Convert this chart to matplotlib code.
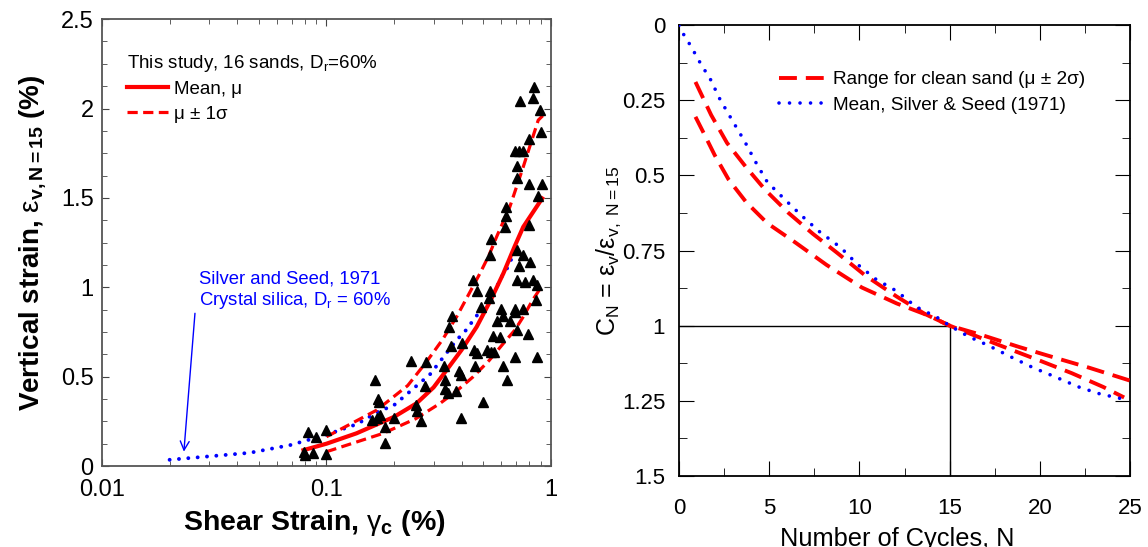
import numpy as np
import matplotlib.pyplot as plt
from matplotlib.ticker import MultipleLocator, FixedLocator, NullFormatter, LogLocator, FuncFormatter

plt.rcParams['font.family'] = ['Liberation Sans', 'DejaVu Sans']
plt.rcParams['mathtext.fontset'] = 'custom'
plt.rcParams['mathtext.rm'] = 'Liberation Sans'
plt.rcParams['mathtext.it'] = 'Liberation Sans'
plt.rcParams['mathtext.bf'] = 'Liberation Sans:bold'

# ---- left panel data: vertical strain vs shear strain
tri_x = [0.843, 0.728, 0.829, 0.893, 0.900, 0.795, 0.689, 0.718, 0.748, 0.708,
         0.708, 0.795, 0.912, 0.878, 0.801, 0.630, 0.630, 0.622, 0.540, 0.535,
         0.703, 0.753, 0.806, 0.718, 0.703, 0.766, 0.831, 0.869, 0.448, 0.470,
         0.535, 0.528, 0.488, 0.597, 0.613, 0.689, 0.691, 0.753, 0.857, 0.577,
         0.657, 0.554, 0.593, 0.703, 0.787, 0.362, 0.352, 0.360, 0.401, 0.455,
         0.467, 0.517, 0.539, 0.557, 0.460, 0.689, 0.609, 0.869, 0.639, 0.239,
         0.279, 0.334, 0.391, 0.396, 0.338, 0.274, 0.337, 0.349, 0.377, 0.496,
         0.399, 0.165, 0.170, 0.172, 0.250, 0.252, 0.263, 0.159, 0.168, 0.174,
         0.182, 0.182, 0.2005, 0.083, 0.090, 0.100, 0.079, 0.080, 0.087, 0.100]
tri_y = [2.12, 2.04, 2.06, 1.99, 1.87, 1.83, 1.76, 1.76, 1.76, 1.68,
         1.61, 1.58, 1.58, 1.51, 1.35, 1.45, 1.40, 1.34, 1.27, 1.18,
         1.21, 1.18, 1.14, 1.12, 1.04, 1.03, 1.04, 1.01, 1.04, 0.98,
         0.98, 0.94, 0.89, 0.88, 0.84, 0.88, 0.86, 0.88, 0.93, 0.81,
         0.81, 0.73, 0.72, 0.76, 0.74, 0.84, 0.78, 0.67, 0.69, 0.65,
         0.63, 0.65, 0.64, 0.64, 0.56, 0.61, 0.56, 0.61, 0.48, 0.59,
         0.58, 0.56, 0.53, 0.51, 0.48, 0.45, 0.43, 0.41, 0.42, 0.36,
         0.27, 0.48, 0.375, 0.36, 0.34, 0.31, 0.25, 0.26, 0.27, 0.285,
         0.22, 0.13, 0.27, 0.19, 0.16, 0.20, 0.08, 0.06, 0.074, 0.067]

mean_x = [0.079, 0.100, 0.136, 0.200, 0.252, 0.300, 0.343, 0.400, 0.467, 0.540, 0.614, 0.690, 0.753, 0.832, 0.914]
mean_y = [0.089, 0.125, 0.183, 0.275, 0.351, 0.440, 0.537, 0.650, 0.779, 0.930, 1.078, 1.230, 1.338, 1.420, 1.497]

up_x = [0.100, 0.1675, 0.230, 0.279, 0.330, 0.380, 0.430, 0.483, 0.530, 0.573, 0.656, 0.753, 0.878, 0.92]
up_y = [0.164, 0.313, 0.450, 0.583, 0.710, 0.835, 0.960, 1.078, 1.180, 1.283, 1.450, 1.674, 1.935, 1.96]

lo_x = [0.100, 0.179, 0.250, 0.321, 0.380, 0.451, 0.530, 0.614, 0.690, 0.753, 0.830, 0.893, 0.92]
lo_y = [0.080, 0.183, 0.265, 0.351, 0.420, 0.500, 0.590, 0.686, 0.760, 0.835, 0.930, 0.990, 1.005]

ss_x = [0.020, 0.0455, 0.0688, 0.100, 0.137, 0.173, 0.198, 0.270, 0.286, 0.380, 0.414, 0.500, 0.555, 0.614, 0.643, 0.703]
ss_y = [0.035, 0.074, 0.117, 0.175, 0.235, 0.310, 0.336, 0.481, 0.505, 0.705, 0.753, 0.891, 0.967, 1.078, 1.112, 1.227]

# ---- right panel data: C_N vs number of cycles
cn_n = [0, 0.29, 0.66, 0.97, 1.30, 1.69, 2.27, 2.95, 3.63, 4.25, 4.89, 5.86, 6.83, 7.80,
        8.96, 9.89, 10.90, 12.06, 13.13, 14.29, 15.0, 16.04, 17.11, 18.46, 19.63, 20.79,
        22.15, 23.32, 24.67]
cn_ss = [0, 0.035, 0.07, 0.104, 0.139, 0.174, 0.247, 0.317, 0.386, 0.456, 0.522, 0.58,
         0.636, 0.688, 0.74, 0.796, 0.845, 0.885, 0.937, 0.972, 1.0, 1.036, 1.065, 1.106,
         1.14, 1.169, 1.204, 1.227, 1.245]

r1_n = [0.91, 1.78, 2.66, 3.72, 4.79, 6.05, 7.41, 8.77, 10.32, 12.06, 13.62, 15.0,
        16.52, 18.27, 20.02, 21.76, 23.51, 24.67]
r1_c = [0.189, 0.299, 0.392, 0.473, 0.549, 0.624, 0.694, 0.758, 0.833, 0.903, 0.961, 1.0,
        1.036, 1.077, 1.117, 1.158, 1.204, 1.239]

r2_n = [0.91, 1.40, 1.98, 2.75, 3.72, 4.89, 6.44, 8.18, 10.13, 12.06, 13.81, 15.0,
        16.72, 18.85, 20.79, 22.73, 25.0]
r2_c = [0.305, 0.363, 0.433, 0.514, 0.589, 0.659, 0.723, 0.798, 0.873, 0.926, 0.966, 1.0,
        1.030, 1.071, 1.106, 1.140, 1.183]

ref_n = [0, 15, 15]
ref_c = [1, 1, 1.5]

RED = '#FF0000'
BLUE = '#0000FF'
plain = FuncFormatter(lambda v, p: '{:g}'.format(round(v, 3)))

fig = plt.figure(figsize=(11.48, 5.47), dpi=100)

# ================= left panel
ax = fig.add_axes([0.0889, 0.148, 0.391, 0.817])
ax.set_xscale('log')
ax.set_xlim(0.01, 1)
ax.set_ylim(0, 2.5)

ax.plot(ss_x, ss_y, color=BLUE, lw=2.8, dashes=(0.01, 2.4), dash_capstyle='round', zorder=2)
ax.plot(mean_x, mean_y, color=RED, lw=3.0, label='Mean, μ', zorder=3)
ax.plot(up_x, up_y, color=RED, lw=2.3, dashes=(3.2, 1.7), label='μ ± 1σ', zorder=3)
ax.plot(lo_x, lo_y, color=RED, lw=2.3, dashes=(3.2, 1.7), zorder=3)
ax.plot(tri_x, tri_y, linestyle='none', marker='^', ms=6.5, color='black', zorder=4)

ax.text(0.027, 1.044, 'Silver and Seed, 1971', color=BLUE, fontsize=13.3, va='center')
ax.text(0.027, 0.928, 'Crystal silica, D$_\\mathrm{r}$ = 60%', color=BLUE, fontsize=13.3, va='center')
ax.annotate('', xy=(0.0231, 0.065), xytext=(0.026, 0.87),
            arrowprops=dict(arrowstyle='->', color=BLUE, lw=1.0, mutation_scale=16))

leg = ax.legend(loc='upper left', bbox_to_anchor=(0.055, 0.925), frameon=False,
                fontsize=13.5, handlelength=2.2, handletextpad=0.3, labelspacing=0.42,
                title='This study, 16 sands, D$_\\mathrm{r}$=60%', title_fontsize=13.5,
                alignment='left', borderaxespad=0, borderpad=0)
leg._legend_box.sep = 5

ax.xaxis.set_major_locator(FixedLocator([0.01, 0.1, 1]))
ax.xaxis.set_major_formatter(plain)
ax.xaxis.set_minor_locator(LogLocator(base=10, subs=np.arange(2, 10)))
ax.xaxis.set_minor_formatter(NullFormatter())
ax.yaxis.set_major_locator(MultipleLocator(0.5))
ax.yaxis.set_minor_locator(MultipleLocator(0.125))
ax.yaxis.set_major_formatter(plain)
ax.tick_params(which='both', direction='in', top=True, right=True, color='#444444')
ax.tick_params(which='major', length=5, labelsize=17, pad=6)
ax.tick_params(axis='x', which='major', pad=9)
ax.tick_params(which='minor', length=3.5)
for s in ax.spines.values():
    s.set_color('#555555')
    s.set_linewidth(1.3)

ax.set_xlabel('Shear Strain, $\\gamma_{\\mathbf{c}}$ (%)', fontsize=20.5, fontweight='bold')
ax.set_ylabel('Vertical strain, $\\varepsilon_{\\mathbf{v,N=15}}$ (%)', fontsize=20, fontweight='bold')
ax.xaxis.set_label_coords(0.473, -0.093)
ax.yaxis.set_label_coords(-0.12, 0.5)

# ================= right panel
bx = fig.add_axes([0.5915, 0.130, 0.3929, 0.824])
bx.set_xlim(0, 25)
bx.set_ylim(1.5, 0)

bx.plot(ref_n, ref_c, color='black', lw=1.0, zorder=1)
bx.plot(r1_n, r1_c, color=RED, lw=2.8, dashes=(4.6, 2.3), label='Range for clean sand (μ ± 2σ)', zorder=3)
bx.plot(r2_n, r2_c, color=RED, lw=2.8, dashes=(4.6, 2.3), zorder=3)
bx.plot(cn_n, cn_ss, color=BLUE, lw=2.6, dashes=(0.01, 2.9), dash_capstyle='round',
        label='Mean, Silver & Seed (1971)', zorder=4)

bx.legend(loc='upper left', bbox_to_anchor=(0.222, 0.898), frameon=False, fontsize=13.7,
          handlelength=2.4, handletextpad=0.45, labelspacing=0.42, borderaxespad=0, borderpad=0)

bx.xaxis.set_major_locator(MultipleLocator(5))
bx.xaxis.set_minor_locator(MultipleLocator(2.5))
bx.yaxis.set_major_locator(MultipleLocator(0.25))
bx.yaxis.set_minor_locator(MultipleLocator(0.125))
bx.xaxis.set_major_formatter(plain)
bx.yaxis.set_major_formatter(plain)
bx.tick_params(which='both', direction='in', top=True, right=True)
bx.tick_params(which='major', length=11, labelsize=16)
bx.tick_params(axis='x', which='major', pad=16)
bx.tick_params(axis='y', which='major', pad=10)
bx.tick_params(which='minor', length=6)
for s in bx.spines.values():
    s.set_linewidth(1.3)

bx.set_xlabel('Number of Cycles, N', fontsize=18.3)
bx.set_ylabel('C$_\\mathrm{N}$ = ε$_\\mathrm{v}$/ε$_\\mathrm{v,\\ N=15}$', fontsize=18)
bx.xaxis.set_label_coords(0.483, -0.113)
bx.yaxis.set_label_coords(-0.125, 0.5)

fig.savefig('out.png', dpi=100)
